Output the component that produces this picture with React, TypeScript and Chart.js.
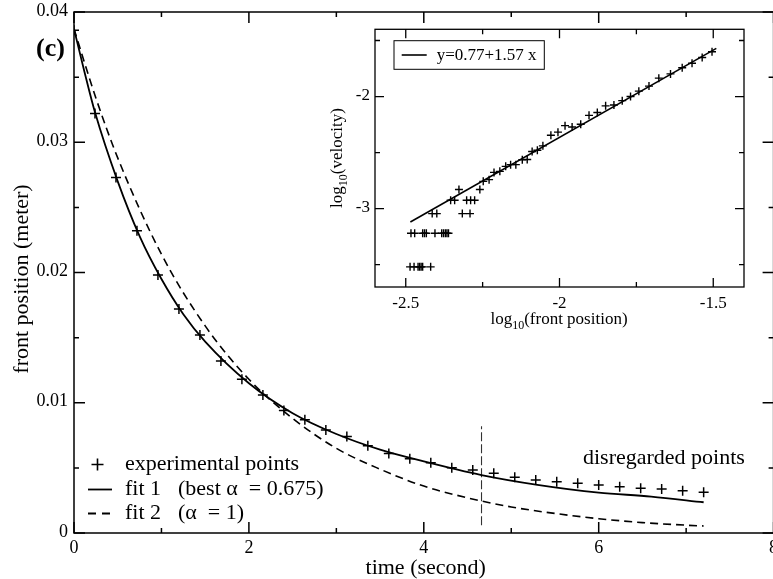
import React, { useEffect, useRef } from 'react';
import { Chart, registerables } from 'chart.js';

Chart.register(...registerables);

const FONT = "'Liberation Serif', 'Times New Roman', serif";

// ---------- main panel data ----------
const expTime = [0, 0.24, 0.48, 0.72, 0.96, 1.2, 1.44, 1.68, 1.92, 2.16, 2.4, 2.64, 2.88, 3.12, 3.36, 3.6, 3.84, 4.08, 4.32, 4.56, 4.8, 5.04, 5.28, 5.52, 5.76, 6.0, 6.24, 6.48, 6.72, 6.96, 7.2];
const expPosition = [0.0386, 0.0322, 0.0273, 0.0232, 0.0198, 0.0172, 0.0152, 0.0132, 0.0118, 0.0106, 0.0094, 0.0087, 0.0079, 0.0074, 0.0067, 0.0061, 0.0057, 0.0054, 0.00501, 0.00484, 0.00458, 0.00428, 0.00407, 0.00394, 0.00382, 0.00369, 0.00355, 0.00343, 0.00338, 0.00325, 0.00312];

const fit1Time = [0, 0.12, 0.24, 0.5, 0.75, 1, 1.25, 1.5, 2, 2.5, 3, 3.5, 4, 4.66, 5.3, 6, 6.6, 7.2];
const fit1Position = [0.0387, 0.0354, 0.0323, 0.027, 0.0228, 0.0195, 0.0168, 0.0147, 0.0115, 0.0092, 0.0076, 0.0064, 0.0055, 0.00445, 0.0037, 0.0031, 0.0028, 0.00236];

const fit2Time = [0, 0.25, 0.5, 1, 1.5, 2, 2.5, 3, 3.5, 4, 4.5, 5, 5.5, 6, 6.5, 7, 7.2];
const fit2Position = [0.0387, 0.0334, 0.0288, 0.0214, 0.0159, 0.0118, 0.0088, 0.0065, 0.0049, 0.0036, 0.0027, 0.002, 0.0015, 0.0011, 0.0008, 0.0006, 0.00054];

const cutoffTime = [4.66, 4.66];
const cutoffPosition = [0.0006, 0.0082];

const xTickValues = [0, 2, 4, 6, 8];
const xTickLabels = ['0', '2', '4', '6', '8'];
const xMinorValues = [1, 3, 5, 7];
const yTickValues = [0, 0.01, 0.02, 0.03, 0.04];
const yTickLabels = ['0', '0.01', '0.02', '0.03', '0.04'];
const yMinorValues = [0.005, 0.015, 0.025, 0.035];

const xTitle = 'time (second)';
const yTitle = 'front position (meter)';
const panelLabel = '(c)';
const noteText = 'disregarded points';
const legendNames = ['experimental points', 'fit 1', 'fit 2'];
const legendDetails = ['', '(best \u03B1  = 0.675)', '(\u03B1  = 1)'];

// ---------- inset data ----------
const insetLogPosition = [
  -2.486, -2.473, -2.46, -2.455, -2.45, -2.445, -2.419,
  -2.483, -2.471, -2.445, -2.439, -2.433, -2.405, -2.383, -2.377, -2.371, -2.366, -2.361,
  -2.414, -2.399, -2.316, -2.291,
  -2.354, -2.341, -2.302, -2.289, -2.276,
  -2.327, -2.259,
  -2.248, -2.229, -2.213, -2.194, -2.175, -2.159, -2.142, -2.121, -2.105, -2.089, -2.072, -2.054,
  -2.028, -2.005, -1.982, -1.959, -1.931, -1.904, -1.877, -1.85, -1.823, -1.796, -1.769, -1.742,
  -1.709, -1.677, -1.639, -1.601, -1.569, -1.536, -1.504,
];
const insetLogVelocity = [
  -3.52, -3.52, -3.52, -3.52, -3.52, -3.52, -3.52,
  -3.22, -3.22, -3.22, -3.22, -3.22, -3.22, -3.22, -3.22, -3.22, -3.22, -3.22,
  -3.045, -3.045, -3.045, -3.045,
  -2.926, -2.926, -2.926, -2.926, -2.926,
  -2.83, -2.83,
  -2.757, -2.742, -2.677, -2.668, -2.623, -2.608, -2.608, -2.564, -2.562, -2.49, -2.48, -2.44,
  -2.345, -2.318, -2.26, -2.272, -2.248, -2.168, -2.142, -2.083, -2.076, -2.037, -2.0, -1.952,
  -1.907, -1.836, -1.798, -1.743, -1.703, -1.652, -1.6,
];
const insetFitX = [-2.485, -1.49];
const insetFitY = [-3.12, -1.57];
const insetFitLabel = 'y=0.77+1.57 x';

const insetXTickValues = [-2.5, -2, -1.5];
const insetXTickLabels = ['-2.5', '-2', '-1.5'];
const insetXMinor = [-2.25, -1.75];
const insetYTickValues = [-3, -2];
const insetYTickLabels = ['-3', '-2'];
const insetYMinor = [-3.5, -2.5, -1.5];
const insetXTitle = ['log', '10', '(front position)'];
const insetYTitle = ['log', '10', '(velocity)'];

// ---------- helpers ----------
const pts = (xs: number[], ys: number[]) => xs.map((x, i) => ({ x, y: ys[i] }));

function axis(min: number, max: number, values: number[], labels: string[], size: number, padding: number, labelOffset: number, fit: (s: any) => void) {
  return {
    type: 'linear' as const,
    min,
    max,
    afterBuildTicks: (s: any) => {
      s.ticks = values.map((v) => ({ value: v }));
    },
    afterFit: fit,
    ticks: {
      autoSkip: false,
      maxRotation: 0,
      padding,
      labelOffset,
      color: '#000',
      font: { family: FONT, size },
      callback: (_v: any, i: number) => labels[i],
    },
    grid: { display: false },
    border: { display: false },
  };
}

function drawFrame(chart: any, xMaj: number[], xMin: number[], yMaj: number[], yMin: number[], majLen: number, minLen: number, lw: number) {
  const { ctx, chartArea } = chart;
  const { left, right, top, bottom } = chartArea;
  const xs = chart.scales.x;
  const ys = chart.scales.y;
  ctx.save();
  ctx.strokeStyle = '#000';
  ctx.lineWidth = lw;
  ctx.setLineDash([]);
  ctx.strokeRect(left, top, right - left, bottom - top);
  ctx.beginPath();
  const xt = (vals: number[], len: number) =>
    vals.forEach((v) => {
      const p = xs.getPixelForValue(v);
      ctx.moveTo(p, bottom);
      ctx.lineTo(p, bottom - len);
      ctx.moveTo(p, top);
      ctx.lineTo(p, top + len);
    });
  const yt = (vals: number[], len: number) =>
    vals.forEach((v) => {
      const p = ys.getPixelForValue(v);
      ctx.moveTo(left, p);
      ctx.lineTo(left + len, p);
      ctx.moveTo(right, p);
      ctx.lineTo(right - len, p);
    });
  xt(xMaj, majLen);
  xt(xMin, minLen);
  yt(yMaj, majLen);
  yt(yMin, minLen);
  ctx.stroke();
  ctx.restore();
}

function drawSubLabel(ctx: CanvasRenderingContext2D, parts: string[], size: number) {
  const big = `${size}px ${FONT}`;
  const small = `${Math.round(size * 0.72)}px ${FONT}`;
  ctx.font = big;
  const w1 = ctx.measureText(parts[0]).width;
  const w3 = ctx.measureText(parts[2]).width;
  ctx.font = small;
  const w2 = ctx.measureText(parts[1]).width;
  let x = -(w1 + w2 + w3) / 2;
  ctx.textAlign = 'left';
  ctx.textBaseline = 'alphabetic';
  ctx.font = big;
  ctx.fillText(parts[0], x, 0);
  x += w1;
  ctx.font = small;
  ctx.fillText(parts[1], x, size * 0.32);
  x += w2;
  ctx.font = big;
  ctx.fillText(parts[2], x, 0);
}

const mainDecor = {
  id: 'mainDecor',
  afterDraw(chart: any) {
    const ctx: CanvasRenderingContext2D = chart.ctx;
    drawFrame(chart, xTickValues, xMinorValues, yTickValues, yMinorValues, 11, 5, 1.5);
    ctx.save();
    ctx.fillStyle = '#000';
    ctx.strokeStyle = '#000';
    ctx.textBaseline = 'alphabetic';
    ctx.textAlign = 'left';
    ctx.font = `bold 26px ${FONT}`;
    ctx.fillText(panelLabel, 36, 56);

    ctx.font = `22px ${FONT}`;
    ctx.textAlign = 'center';
    ctx.fillText(xTitle, 425.7, 574);
    ctx.save();
    ctx.translate(28, 279);
    ctx.rotate(-Math.PI / 2);
    ctx.fillText(yTitle, 0, 0);
    ctx.restore();

    ctx.textAlign = 'left';
    ctx.fillText(noteText, 583, 463.5);

    // legend
    const baselines = [470, 495, 519];
    const mx0 = 88;
    const mx1 = 112;
    baselines.forEach((b, i) => {
      const cy = b - 5.5;
      ctx.beginPath();
      if (i === 0) {
        ctx.lineWidth = 1.6;
        ctx.setLineDash([]);
        ctx.moveTo(97.5 - 6, cy);
        ctx.lineTo(97.5 + 6, cy);
        ctx.moveTo(97.5, cy - 6);
        ctx.lineTo(97.5, cy + 6);
      } else {
        ctx.lineWidth = 1.8;
        ctx.setLineDash(i === 2 ? [8, 6] : []);
        ctx.moveTo(mx0, cy);
        ctx.lineTo(mx1, cy);
      }
      ctx.stroke();
      ctx.setLineDash([]);
      ctx.fillText(legendNames[i], 125, b);
      if (legendDetails[i]) ctx.fillText(legendDetails[i], 178, b);
    });
    ctx.restore();
  },
};

const insetDecor = {
  id: 'insetDecor',
  beforeDraw(chart: any) {
    const { ctx, chartArea } = chart;
    ctx.save();
    ctx.fillStyle = '#fff';
    ctx.fillRect(chartArea.left, chartArea.top, chartArea.right - chartArea.left, chartArea.bottom - chartArea.top);
    ctx.restore();
  },
  afterDraw(chart: any) {
    const ctx: CanvasRenderingContext2D = chart.ctx;
    drawFrame(chart, insetXTickValues, insetXMinor, insetYTickValues, insetYMinor, 9, 5, 1.3);
    ctx.save();
    ctx.fillStyle = '#000';
    ctx.strokeStyle = '#000';
    // legend box
    ctx.lineWidth = 1;
    ctx.strokeRect(74, 20.7, 150.3, 28.6);
    ctx.beginPath();
    ctx.lineWidth = 1.6;
    ctx.moveTo(81.7, 35);
    ctx.lineTo(106.7, 35);
    ctx.stroke();
    ctx.font = `17px ${FONT}`;
    ctx.textAlign = 'left';
    ctx.textBaseline = 'alphabetic';
    ctx.fillText(insetFitLabel, 116.7, 40);
    // titles
    ctx.save();
    ctx.translate(239, 303.5);
    drawSubLabel(ctx, insetXTitle, 17);
    ctx.restore();
    ctx.save();
    ctx.translate(22, 138);
    ctx.rotate(-Math.PI / 2);
    drawSubLabel(ctx, insetYTitle, 17);
    ctx.restore();
    ctx.restore();
  },
};

function mainConfig(): any {
  return {
    type: 'scatter',
    data: {
      datasets: [
        {
          label: legendNames[0],
          data: pts(expTime, expPosition),
          pointStyle: 'cross',
          pointRadius: 5,
          pointBorderWidth: 1.5,
          borderColor: '#000',
          backgroundColor: '#000',
          showLine: false,
        },
        {
          label: legendNames[1],
          data: pts(fit1Time, fit1Position),
          showLine: true,
          pointRadius: 0,
          borderColor: '#000',
          borderWidth: 1.8,
          cubicInterpolationMode: 'monotone',
        },
        {
          label: legendNames[2],
          data: pts(fit2Time, fit2Position),
          showLine: true,
          pointRadius: 0,
          borderColor: '#000',
          borderWidth: 1.6,
          borderDash: [8, 5],
          cubicInterpolationMode: 'monotone',
        },
        {
          label: 'cutoff',
          data: pts(cutoffTime, cutoffPosition),
          showLine: true,
          pointRadius: 0,
          borderColor: '#333',
          borderWidth: 1.1,
          borderDash: [9, 3],
        },
      ],
    },
    options: {
      responsive: false,
      animation: false,
      events: [],
      layout: { padding: { left: 0, top: 12, right: 790 - 773.6, bottom: 0 } },
      plugins: { legend: { display: false }, tooltip: { enabled: false } },
      scales: {
        x: axis(0, 8, xTickValues, xTickLabels, 18, -4, 0, (s: any) => {
          s.height = 46;
        }),
        y: axis(0, 0.04, yTickValues, yTickLabels, 18, -2, -1, (s: any) => {
          s.width = 74;
        }),
      },
    },
    plugins: [mainDecor],
  };
}

function insetConfig(): any {
  return {
    type: 'scatter',
    data: {
      datasets: [
        {
          label: 'points',
          data: pts(insetLogPosition, insetLogVelocity),
          pointStyle: 'cross',
          pointRadius: 4,
          pointBorderWidth: 1.4,
          borderColor: '#000',
          backgroundColor: '#000',
          showLine: false,
        },
        {
          label: insetFitLabel,
          data: pts(insetFitX, insetFitY),
          showLine: true,
          pointRadius: 0,
          borderColor: '#000',
          borderWidth: 1.6,
        },
      ],
    },
    options: {
      responsive: false,
      animation: false,
      events: [],
      layout: { padding: { left: 0, top: 9.3, right: 16, bottom: 0 } },
      plugins: { legend: { display: false }, tooltip: { enabled: false } },
      scales: {
        x: axis(-2.6, -1.4, insetXTickValues, insetXTickLabels, 17, -1.5, 0, (s: any) => {
          s.height = 53;
        }),
        y: axis(-3.7, -1.4, insetYTickValues, insetYTickLabels, 17, -3, -1, (s: any) => {
          s.width = 55;
        }),
      },
    },
    plugins: [insetDecor],
  };
}

export default function App() {
  const mainRef = useRef<HTMLCanvasElement>(null);
  const insetRef = useRef<HTMLCanvasElement>(null);
  useEffect(() => {
    const main = new Chart(mainRef.current as HTMLCanvasElement, mainConfig());
    const inset = new Chart(insetRef.current as HTMLCanvasElement, insetConfig());
    return () => {
      main.destroy();
      inset.destroy();
    };
  }, []);
  return (
    <div style={{ position: 'fixed', left: 0, top: 0, width: 773, height: 579, overflow: 'hidden', background: '#fff' }}>
      <canvas ref={mainRef} width={790} height={579} style={{ position: 'absolute', left: 0, top: 0, width: 790, height: 579 }} />
      <canvas ref={insetRef} width={440} height={320} style={{ position: 'absolute', left: 320, top: 20, width: 440, height: 320 }} />
    </div>
  );
}
